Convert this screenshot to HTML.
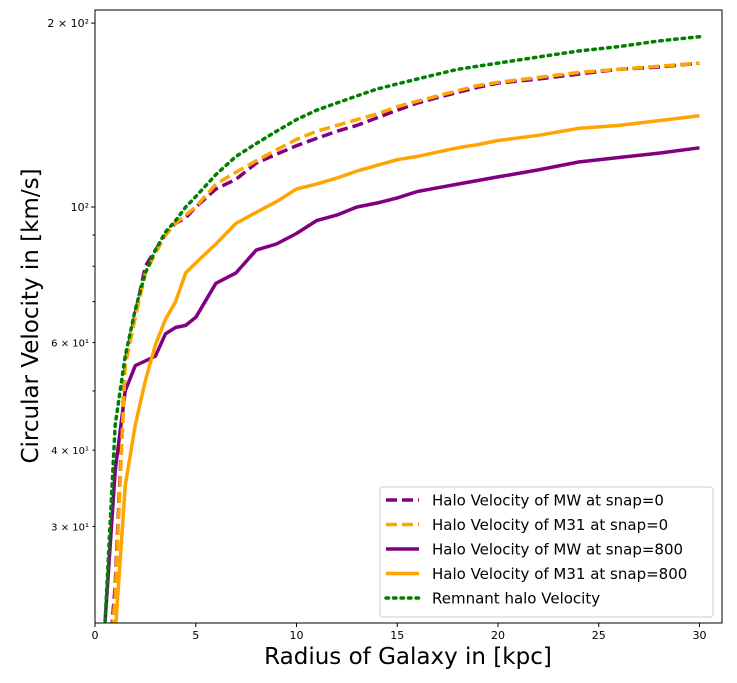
<!DOCTYPE html>
<html><head><meta charset="utf-8"><style>
body{margin:0;background:#fff;font-family:"Liberation Sans","DejaVu Sans",sans-serif;}
svg text{font-family:"DejaVu Sans","Liberation Sans",sans-serif;}
</style></head><body>
<svg id="chart" width="737" height="678" viewBox="0 0 737 678" xmlns="http://www.w3.org/2000/svg">
<defs><clipPath id="plotclip"><rect x="95" y="10" width="627" height="613"/></clipPath></defs>
<g id="lines" clip-path="url(#plotclip)"></g>
<rect x="95" y="10" width="627" height="613" fill="none" stroke="#000" stroke-width="1"/>
<g id="xticks"></g>
<g id="yticks"></g>
<text x="408" y="664" font-size="23" text-anchor="middle">Radius of Galaxy in [kpc]</text>
<text transform="translate(38,316) rotate(-90)" font-size="23" text-anchor="middle">Circular Velocity in [km/s]</text>
<g>
<rect x="380" y="487" width="333" height="130" rx="3" fill="#fff" fill-opacity="0.8" stroke="#ccc"/>
<g id="legend-items"></g>
</g>
</svg>
<script>
const radii=[0.5,1,1.5,2,2.5,3,3.5,4,4.5,5,6,7,8,9,10,11,12,13,14,15,16,17,18,19,20,22,24,26,28,30];
const mw0=[15,24,56,67,80,85,90,94,96,100,107,111,118,122,126,129.5,133,136,140,144,148,151,154,157,159.5,162,165,168,169.5,172];
const m310=[15,23,55,66,78,84,90,94,97,100,109,114,119,124,129,133,136,139,142,146,149,152,155,158,160,163,166,168,170,172];
const mw800=[21,37,50,55,56,57,62,63.5,64,66,75,78,85,87,90.5,95,97,100,101.5,103.5,106,107.5,109,110.5,112,115,118.5,120.5,122.5,125];
const m31800=[15,20,35,44,52,59.5,65.5,70,78,81,87,94,98,102,107,109,111.5,114.5,117,119.5,121,123,125,126.5,128.5,131,134.5,136,138.5,141];
const remnant=[21,44,57,68,78,85,91,95,100,104,113,121,127,133,139,144,148,152,156,159,162,165,168,170,172,176,180,183,187,190];
const xTicks=[0,5,10,15,20,25,30];
const yMajor=[100,200];
const yMajorLabels=["10²","2 × 10²"];
const yMinorLabeled=[30,40,60];
const yMinorLabels=["3 × 10¹","4 × 10¹","6 × 10¹"];
const yMinorUnlabeled=[50,70,80,90];
const NS="http://www.w3.org/2000/svg";
function X(r){return 95+r*20.15;}
function Y(v){return 207-611*Math.log10(v/100);}
function mk(t,a,p){const e=document.createElementNS(NS,t);for(const k in a)e.setAttribute(k,a[k]);p.appendChild(e);return e;}
const series=[
 {name:"mw-snap0",vals:mw0,color:"purple",dash:"11,5",label:"Halo Velocity of MW at snap=0"},
 {name:"m31-snap0",vals:m310,color:"orange",dash:"11,5",label:"Halo Velocity of M31 at snap=0"},
 {name:"mw-snap800",vals:mw800,color:"purple",dash:"",label:"Halo Velocity of MW at snap=800"},
 {name:"m31-snap800",vals:m31800,color:"orange",dash:"",label:"Halo Velocity of M31 at snap=800"},
 {name:"remnant",vals:remnant,color:"green",dash:"2.5,5",label:"Remnant halo Velocity"}];
const lg=document.getElementById('lines');
const order=[2,3,0,1,4];
order.forEach(i=>{const s=series[i];
 const d=radii.map((r,j)=>(j?'L':'M')+X(r).toFixed(1)+','+Y(s.vals[j]).toFixed(1)).join('');
 const p=mk('path',{d:d,fill:'none',stroke:s.color,'stroke-width':3.5,'stroke-dasharray':s.dash,'stroke-linecap':s.dash.startsWith('2.5')?'round':'butt','stroke-linejoin':'round'},lg);
 
 
});
const xt=document.getElementById('xticks');
xTicks.forEach(t=>{const x=X(t);
 const l=mk('line',{x1:x,x2:x,y1:623,y2:627,stroke:'#000'},xt);
 
 
 const tx=mk('text',{x:x,y:639,'font-size':11,'text-anchor':'middle'},xt);tx.textContent=t;
 
 
});
const yt=document.getElementById('yticks');
function ytick(v,len,lab,fs){const y=Y(v);
 const l=mk('line',{x1:95-len,x2:95,y1:y,y2:y,stroke:'#000'},yt);
 
 
 if(lab){const tx=mk('text',{x:89,y:y+4,'font-size':fs,'text-anchor':'end'},yt);tx.textContent=lab;
 
 }}
yMajor.forEach((v,i)=>ytick(v,4,yMajorLabels[i],11));
yMinorLabeled.forEach((v,i)=>ytick(v,2.5,yMinorLabels[i],10));
yMinorUnlabeled.forEach(v=>ytick(v,2.5,null,10));
const li=document.getElementById('legend-items');
series.forEach((s,i)=>{const y=500+i*24.5;
 const l=mk('line',{x1:386,x2:419,y1:y,y2:y,stroke:s.color,'stroke-width':3.5,'stroke-dasharray':s.dash,'stroke-linecap':s.dash.startsWith('2.5')?'round':'butt'},li);
 
 
 const t=mk('text',{x:432,y:y+5.5,'font-size':15},li);t.textContent=s.label;
 
 
});
</script>
</body></html>
